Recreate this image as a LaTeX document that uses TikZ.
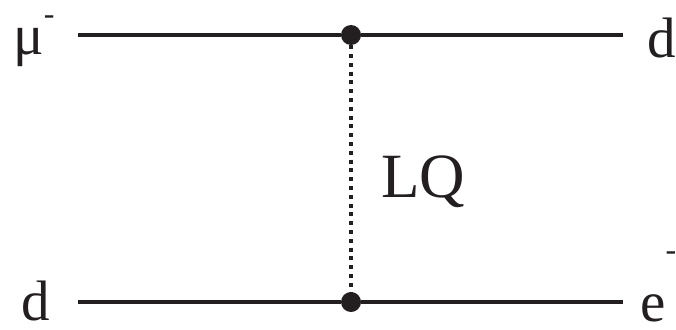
\documentclass[tikz,border=0pt]{standalone}
\usepackage{fontspec}
\setmainfont{Liberation Serif}
\definecolor{ink}{RGB}{35,31,32}
\newcommand{\chg}[1]{\raisebox{#1}{\fontsize{32}{32}\selectfont -}}
\begin{document}
\begin{tikzpicture}[
    x=1pt, y=-1pt,
    vertex/.style={circle, fill=ink, inner sep=0pt, minimum size=20pt},
    fermion/.style={line width=3.5pt, ink},
    lq/.style={line width=4pt, dash pattern=on 4pt off 4.8pt, ink},
    lab/.style={inner sep=0pt, anchor=base west, text=ink, font=\fontsize{57}{68}\selectfont}
]
\useasboundingbox (0,0) rectangle (676,329);

\coordinate (tl) at (78,35);
\coordinate (tr) at (623,35);
\coordinate (bl) at (78,302);
\coordinate (br) at (623,302);

\node[vertex] (vt) at (351,35) {};
\node[vertex] (vb) at (351,302) {};

\draw[fermion] (tl) -- (vt);
\draw[fermion] (vt) -- (tr);
\draw[fermion] (bl) -- (vb);
\draw[fermion] (vb) -- (br);
\draw[lq] (vt) -- (vb);

\node[lab] (mu) at (13,55) {μ\chg{30pt}};
\node[lab] (dout) at (647,57) {d};
\node[lab] (din) at (21,320) {d};
\node[lab] (eout) at (640,321) {e\chg{61pt}};
\node[lab, font=\fontsize{63}{75}\selectfont] (lqlab) at (381,197) {LQ};
\end{tikzpicture}
\end{document}
